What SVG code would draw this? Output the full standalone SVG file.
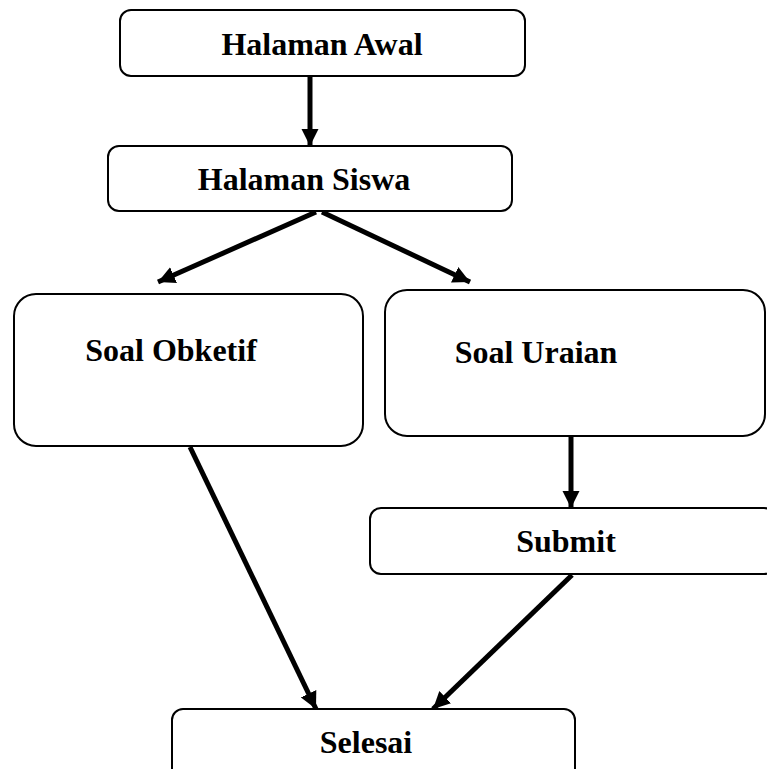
<svg xmlns="http://www.w3.org/2000/svg" width="767" height="769" viewBox="0 0 767 769">
<style>
.box{fill:#fff;stroke:#000;stroke-width:2}
.t{font-family:"Liberation Serif","Times New Roman",serif;font-weight:bold;font-size:32px;fill:#000;text-anchor:middle}
.c{stroke:#000;stroke-width:5;fill:none}
</style>
<defs>
<marker id="ah" viewBox="0 0 10 10" refX="10" refY="5" markerUnits="userSpaceOnUse" markerWidth="17" markerHeight="18" orient="auto">
<path d="M0,0 L10,5 L0,10 Z" fill="#000"/>
</marker>
</defs>
<g id="connectors">
<line class="c" x1="310" y1="76" x2="310" y2="146" marker-end="url(#ah)"/>
<line class="c" x1="316" y1="212" x2="158" y2="282" marker-end="url(#ah)"/>
<line class="c" x1="322" y1="212" x2="470" y2="282" marker-end="url(#ah)"/>
<line class="c" x1="571" y1="437" x2="571" y2="508" marker-end="url(#ah)"/>
<line class="c" x1="190" y1="447" x2="316" y2="709" marker-end="url(#ah)"/>
<line class="c" x1="572" y1="575" x2="433" y2="709" marker-end="url(#ah)"/>
</g>
<g id="halaman-awal">
<rect class="box" x="120" y="10" width="405" height="66" rx="11"/>
<text class="t" x="322" y="55">Halaman Awal</text>
</g>
<g id="halaman-siswa">
<rect class="box" x="108" y="146" width="404" height="65" rx="11"/>
<text class="t" x="304" y="190">Halaman Siswa</text>
</g>
<g id="soal-obketif">
<rect class="box" x="14" y="294" width="349" height="152" rx="22"/>
<text class="t" x="171" y="361">Soal Obketif</text>
</g>
<g id="soal-uraian">
<rect class="box" x="385" y="290" width="380" height="146" rx="22"/>
<text class="t" x="536" y="363">Soal Uraian</text>
</g>
<g id="submit">
<rect class="box" x="370" y="508" width="405" height="66" rx="11"/>
<text class="t" x="566" y="552">Submit</text>
</g>
<g id="selesai">
<rect class="box" x="172" y="709" width="403" height="80" rx="11"/>
<text class="t" x="366" y="753">Selesai</text>
</g>
</svg>
